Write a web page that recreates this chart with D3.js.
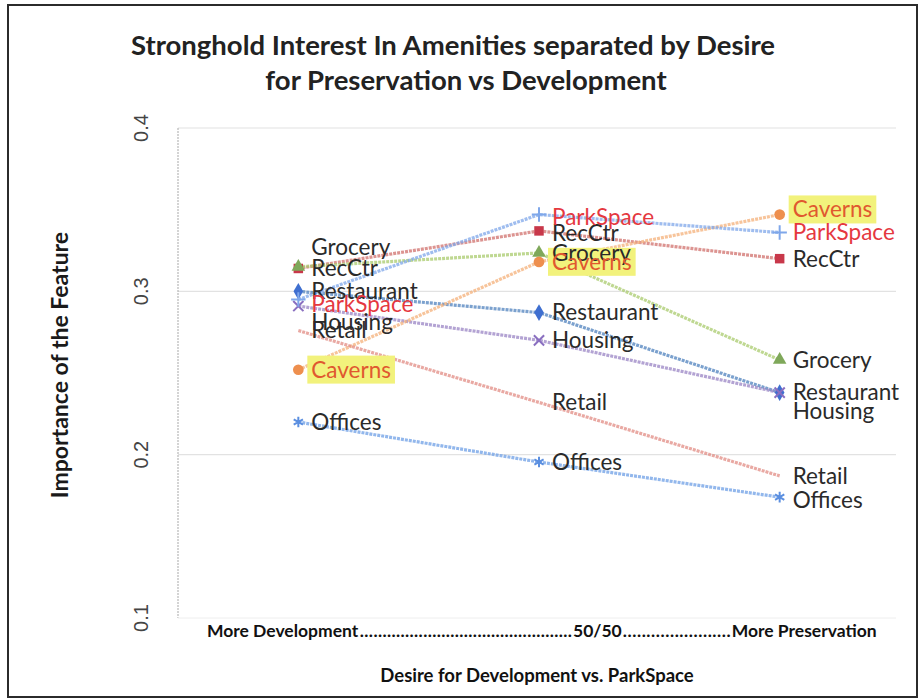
<!DOCTYPE html>
<html><head><meta charset="utf-8">
<script src="https://cdn.jsdelivr.net/npm/d3@7"></script>
<style>body{margin:0;background:#fff}svg{display:block}</style>
</head><body><svg id="c" width="923" height="698"></svg>
<script>
const categories = ["More Development", "50/50", "More Preservation"];
const restaurant = [0.300, 0.287, 0.238];
const recCtr     = [0.314, 0.337, 0.320];
const grocery    = [0.315, 0.3235, 0.258];
const housing    = [0.291, 0.270, 0.238];
const offices    = [0.220, 0.1955, 0.174];
const caverns    = [0.252, 0.318, 0.347];
const parkSpace  = [0.295, 0.347, 0.336];
const retail     = [0.276, 0.232, 0.187];
const yTicks = [0.1, 0.2, 0.3, 0.4];
const seriesNames = ["Restaurant","RecCtr","Grocery","Housing","Offices","Caverns","ParkSpace","Retail"];
const seriesValues = [restaurant, recCtr, grocery, housing, offices, caverns, parkSpace, retail];

// styling
const style = {
  Restaurant:{line:"#4F81BD", fill:"#3F6FD0", sym:d3.symbolDiamond, size:80, text:"#2a2a2a"},
  RecCtr:{line:"#D0706C", fill:"#C8384A", sym:d3.symbolSquare, size:90, text:"#2a2a2a"},
  Grocery:{line:"#A9CB6E", fill:"#7FA85A", sym:d3.symbolTriangle, size:80, text:"#2a2a2a"},
  Housing:{line:"#9A84C4", stroke:"#8A6FC0", sym:d3.symbolX, size:70, text:"#2a2a2a"},
  Offices:{line:"#6E9FE6", stroke:"#5B8FE0", sym:d3.symbolAsterisk, size:80, text:"#2a2a2a"},
  Caverns:{line:"#F4B07A", fill:"#EE8F4E", sym:d3.symbolCircle, size:90, text:"#E0582F", hl:"#F2F27C"},
  ParkSpace:{line:"#7FA7EA", stroke:"#7FA7EA", sym:d3.symbolPlus, size:70, text:"#E5383F"},
  Retail:{line:"#E28C84", sym:null, text:"#2a2a2a"}
};
const labelNudge = {"Grocery-0":-20, "Housing-0":16, "ParkSpace-0":5, "Housing-2":19, "Caverns-2":-5, "Offices-2":3, "ParkSpace-1":3, "RecCtr-1":2};

const svg = d3.select("#c");
const m = {l:178, r:900, t:128, b:618};
const x = d3.scaleBand().domain(categories).range([m.l, m.r]);
const y = d3.scaleLinear().domain([0.1, 0.4]).range([m.b, m.t]);
const cx = c => x(c) + x.bandwidth()/2;

// frame
svg.append("rect").attr("x",8).attr("y",5).attr("width",909).attr("height",692)
  .attr("fill","none").attr("stroke","#2b2b2b").attr("stroke-width",2);

// gridlines
svg.append("g").selectAll("line").data(yTicks.slice(1)).join("line")
  .attr("x1",m.l).attr("x2",896).attr("y1",d=>y(d)).attr("y2",d=>y(d))
  .attr("stroke","#e2e2e2").attr("stroke-width",1.2);
// y axis line
svg.append("line").attr("x1",m.l).attr("x2",m.l).attr("y1",m.t).attr("y2",m.b)
  .attr("stroke","#b8b8b8").attr("stroke-width",1.2).attr("stroke-dasharray","2,1");
svg.append("line").attr("x1",m.l).attr("x2",896).attr("y1",m.b).attr("y2",m.b)
  .attr("stroke","#eeeeee").attr("stroke-width",1);

// y tick labels (rotated)
svg.append("g").selectAll("text").data(yTicks).join("text")
  .attr("transform",d=>`translate(148,${y(d)}) rotate(-90)`)
  .attr("text-anchor","middle").attr("font-family","Liberation Sans, Arial, sans-serif")
  .attr("font-size",20).attr("fill","#444").text(d=>d3.format(".1f")(d));

// y title
svg.append("text").attr("transform","translate(68,365) rotate(-90)")
  .attr("text-anchor","middle").attr("font-family","Lato, sans-serif").attr("font-weight","bold")
  .attr("font-size",23).attr("fill","#1a1a1a").text("Importance of the Feature");

// title
const title = svg.append("text").attr("text-anchor","middle").attr("font-family","Lato, sans-serif")
  .attr("font-weight","bold").attr("font-size",27.5).attr("fill","#222");
title.append("tspan").attr("x",453).attr("y",55).text("Stronghold Interest In Amenities separated by Desire");
title.append("tspan").attr("x",466).attr("y",90).text("for Preservation vs Development");

// lines
const line = d3.line().x((d,i)=>cx(categories[i])).y(d=>y(d));
seriesNames.forEach((n,k)=>{
  svg.append("path").datum(seriesValues[k]).attr("d",line).attr("fill","none")
    .attr("stroke",style[n].line).attr("stroke-width",3.2).attr("stroke-opacity",0.75)
    .attr("stroke-dasharray","3,1");
});
// markers
seriesNames.forEach((n,k)=>{
  const s = style[n]; if(!s.sym) return;
  svg.append("g").selectAll("path").data(seriesValues[k]).join("path")
    .attr("transform",(d,i)=>`translate(${cx(categories[i])},${y(d)})`)
    .attr("d",d3.symbol().type(s.sym).size(s.size))
    .attr("fill",s.fill||"none").attr("stroke",s.stroke||"none").attr("stroke-width",2);
});
// labels
const hlLayer = svg.append("g"), txtLayer = svg.append("g");
seriesNames.forEach((n,k)=>{
  const s = style[n];
  seriesValues[k].forEach((v,i)=>{
    const lx = cx(categories[i]) + 13, ly = y(v) + (labelNudge[n+"-"+i]||0);
    const t = txtLayer.append("text").attr("x",lx).attr("y",ly).attr("dy","0.35em")
      .attr("font-family","Lato, sans-serif").attr("font-size",22.5).attr("fill",s.text).text(n);
    if(s.hl){
      const bb = t.node().getBBox();
      hlLayer.append("rect").attr("x",bb.x-4).attr("y",bb.y).attr("width",bb.width+8).attr("height",bb.height+1)
        .attr("fill",s.hl);
    }
  });
});

// x category labels with dot leaders
const xf = {"font-family":"Lato, sans-serif","font-weight":"bold","font-size":17.5,"fill":"#111"};
function xt(px, anchor, txt){
  const t = svg.append("text").attr("x",px).attr("y",637).attr("text-anchor",anchor).text(txt);
  Object.entries(xf).forEach(([k,v])=>t.attr(k,v)); return t;
}
const t0 = xt(cx(categories[0])+60,"end",categories[0]);
const t1 = xt(cx(categories[1])+34,"start",categories[1]);
const t2 = xt(cx(categories[2])-48,"start",categories[2]);
function dots(a,b){
  const t = xt(a,"start",".".repeat(Math.floor((b-a)/4.5)));
  t.attr("textLength",b-a).attr("lengthAdjust","spacing");
}
const b0 = t0.node().getBBox(), b1 = t1.node().getBBox(), b2 = t2.node().getBBox();
dots(b0.x+b0.width+1, b1.x-1);
dots(b1.x+b1.width+1, b2.x-1);

// x title
svg.append("text").attr("x",537).attr("y",682).attr("text-anchor","middle")
  .attr("font-family","Lato, sans-serif").attr("font-weight","bold").attr("font-size",18.5)
  .attr("fill","#111").text("Desire for Development vs. ParkSpace");
</script></body></html>
